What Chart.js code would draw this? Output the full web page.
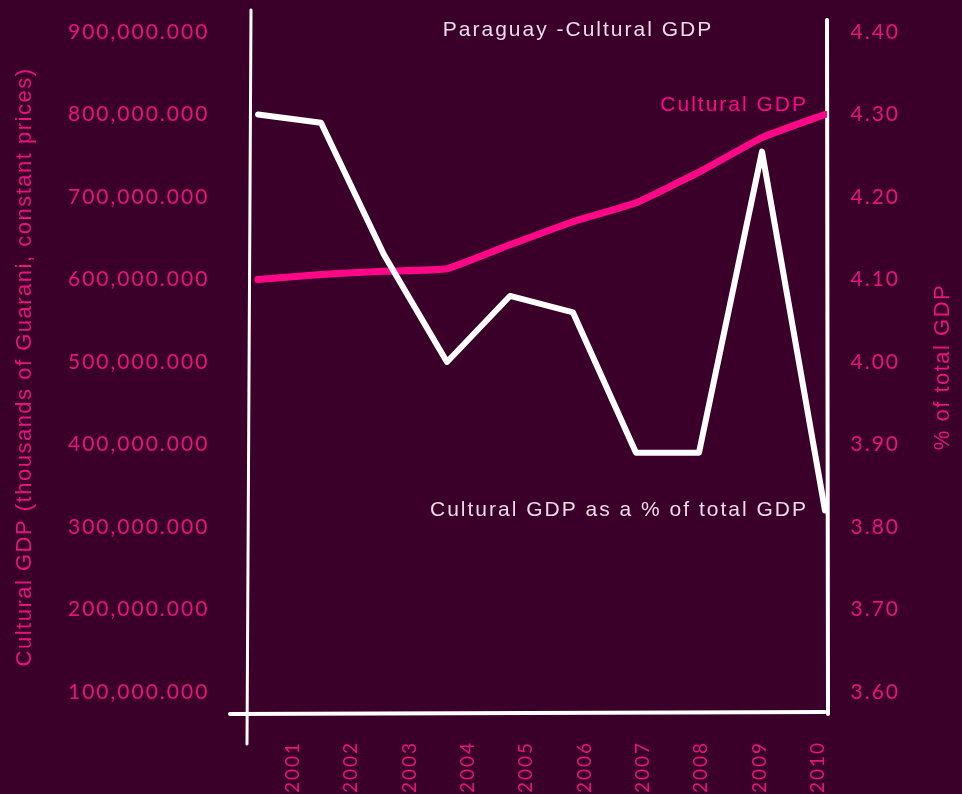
<!DOCTYPE html>
<html>
<head>
<meta charset="utf-8">
<title>Paraguay - Cultural GDP</title>
<script src="https://cdn.jsdelivr.net/npm/chart.js@4.4.1/dist/chart.umd.min.js"></script>
<style>
  html, body { margin: 0; padding: 0; background: #3a002a; }
  canvas { display: block; }
</style>
</head>
<body>
<canvas id="chart" width="962" height="794"></canvas>
<script>
// values
const years = [2001, 2002, 2003, 2004, 2005, 2006, 2007, 2008, 2009, 2010];
const yearLabels = ["2001", "2002", "2003", "2004", "2005", "2006", "2007", "2008", "2009", "2010"];

// thousands of Guarani, constant prices
const culturalGdp = [600000000, 606000000, 610000000, 613000000, 642000000, 670000000, 693000000, 730000000, 772000000, 800000000];
// % of total GDP
const culturalGdpShare = [4.30, 4.29, 4.13, 4.00, 4.08, 4.06, 3.89, 3.89, 4.255, 3.82];

const leftTicks = [100000000, 200000000, 300000000, 400000000, 500000000, 600000000, 700000000, 800000000, 900000000];
const leftTickLabels = ["100,000.000", "200,000.000", "300,000.000", "400,000.000", "500,000.000", "600,000.000", "700,000.000", "800,000.000", "900,000.000"];
const rightTicks = [3.6, 3.7, 3.8, 3.9, 4.0, 4.1, 4.2, 4.3, 4.4];
const rightTickLabels = ["3.60", "3.70", "3.80", "3.90", "4.00", "4.10", "4.20", "4.30", "4.40"];

const titleText = "Paraguay -Cultural GDP";
const leftTitle = "Cultural GDP (thousands of Guarani, constant prices)";
const rightTitle = "% of total GDP";
const gdpLabel = "Cultural GDP";
const shareLabel = "Cultural GDP as a % of total GDP";

const BG = "#3a002a";
const PINK = "#ff0888";
const PINK_TEXT = "#e8137f";
const WHITE = "#ffffff";
const TITLE_COLOR = "#eadbe5";
const TEXT_FONT = "21px 'Liberation Sans', Arial, sans-serif";

const toPoints = (values) => values.map((v, i) => ({ x: years[i], y: v }));

const sketchPlugin = {
  id: "sketch",
  beforeDraw(chart) {
    const { ctx, width, height } = chart;
    ctx.save();
    ctx.fillStyle = BG;
    ctx.fillRect(0, 0, width, height);
    ctx.restore();
    ctx.letterSpacing = "2px";
  },
  beforeDatasetsDraw(chart) {
    const { ctx, chartArea: a } = chart;
    ctx.save();
    ctx.strokeStyle = WHITE;
    ctx.lineCap = "round";

    // hand drawn frame
    ctx.lineWidth = 3;
    ctx.beginPath();
    ctx.moveTo(a.left + 1, a.top - 10);
    ctx.lineTo(a.left - 3, a.bottom + 30);
    ctx.stroke();

    ctx.lineWidth = 4;
    ctx.beginPath();
    ctx.moveTo(a.left - 20, a.bottom);
    ctx.lineTo(a.right - 2, a.bottom - 2);
    ctx.stroke();

    ctx.beginPath();
    ctx.moveTo(a.right, a.top);
    ctx.lineTo(a.right + 1, a.bottom);
    ctx.stroke();
    ctx.restore();
  },
  afterDraw(chart) {
    const { ctx, chartArea: a, scales } = chart;
    ctx.save();
    ctx.letterSpacing = "2px";
    ctx.font = TEXT_FONT;
    ctx.textBaseline = "middle";

    ctx.fillStyle = TITLE_COLOR;
    ctx.textAlign = "center";
    ctx.fillText(titleText, 578, a.top + 10);

    // labels next to the last point of each line
    const lastX = scales.x.getPixelForValue(years[years.length - 1]);
    ctx.textAlign = "right";
    ctx.fillStyle = PINK;
    ctx.fillText(gdpLabel, lastX - 17, scales.y.getPixelForValue(culturalGdp[culturalGdp.length - 1]) - 9);
    ctx.fillStyle = TITLE_COLOR;
    ctx.fillText(shareLabel, lastX - 17, scales.y1.getPixelForValue(culturalGdpShare[culturalGdpShare.length - 1]));

    // axis titles, both read bottom to top
    const midY = (a.top + a.bottom) / 2;
    ctx.fillStyle = PINK_TEXT;
    ctx.font = "22px 'Liberation Sans', Arial, sans-serif";
    ctx.letterSpacing = "1.5px";
    ctx.textAlign = "center";
    ctx.translate(25, midY);
    ctx.rotate(-Math.PI / 2);
    ctx.fillText(leftTitle, 0, 0);
    ctx.rotate(Math.PI / 2);
    ctx.translate(-25, -midY);
    ctx.translate(scales.y1.right + 43, midY);
    ctx.rotate(-Math.PI / 2);
    ctx.fillText(rightTitle, 0, 0);
    ctx.restore();
  },
};

new Chart(document.getElementById("chart"), {
  type: "line",
  data: {
    datasets: [
      {
        label: shareLabel,
        data: toPoints(culturalGdpShare),
        xAxisID: "x",
        yAxisID: "y1",
        borderColor: WHITE,
        borderWidth: 6,
        borderJoinStyle: "round",
        borderCapStyle: "round",
        pointRadius: 0,
        tension: 0,
      },
      {
        label: gdpLabel,
        data: toPoints(culturalGdp),
        xAxisID: "x",
        yAxisID: "y",
        borderColor: PINK,
        borderWidth: 7,
        borderJoinStyle: "round",
        borderCapStyle: "round",
        pointRadius: 0,
        tension: 0.12,
      },
    ],
  },
  options: {
    responsive: false,
    animation: false,
    devicePixelRatio: 1,
    layout: { padding: { left: 68, right: 62, top: 20, bottom: 0 } },
    plugins: {
      legend: { display: false },
      tooltip: { enabled: false },
    },
    scales: {
      x: {
        type: "linear",
        display: false,
        min: 2000.873,
        max: 2010.032,
      },
      xLabels: {
        type: "linear",
        position: "bottom",
        min: 2000.263,
        max: 2010.154,
        grid: { display: false, drawTicks: false },
        border: { display: false },
        ticks: {
          color: PINK_TEXT,
          font: { family: "Lato", size: 19 },
          minRotation: 90,
          maxRotation: 90,
          padding: 27,
          autoSkip: false,
          callback: (v, i) => yearLabels[i],
        },
        afterBuildTicks: (axis) => {
          axis.ticks = years.map((v) => ({ value: v }));
        },
        afterFit: (axis) => {
          axis.height = 80;
        },
      },
      y: {
        type: "linear",
        position: "left",
        min: 73300000,
        max: 914500000,
        grid: { display: false, drawTicks: false },
        border: { display: false },
        ticks: {
          color: PINK_TEXT,
          font: { family: "Lato", size: 21 },
          crossAlign: "far",
          padding: 0,
          callback: (v, i) => leftTickLabels[i],
        },
        afterBuildTicks: (axis) => {
          axis.ticks = leftTicks.map((v) => ({ value: v }));
        },
        afterFit: (axis) => {
          axis.width = 182;
        },
      },
      y1: {
        type: "linear",
        position: "right",
        min: 3.5733,
        max: 4.4145,
        grid: { display: false, drawTicks: false },
        border: { display: false },
        ticks: {
          color: PINK_TEXT,
          font: { family: "Lato", size: 21 },
          crossAlign: "far",
          padding: 0,
          callback: (v, i) => rightTickLabels[i],
        },
        afterBuildTicks: (axis) => {
          axis.ticks = rightTicks.map((v) => ({ value: v }));
        },
        afterFit: (axis) => {
          axis.width = 73;
        },
      },
    },
  },
  plugins: [sketchPlugin],
});
</script>
</body>
</html>
